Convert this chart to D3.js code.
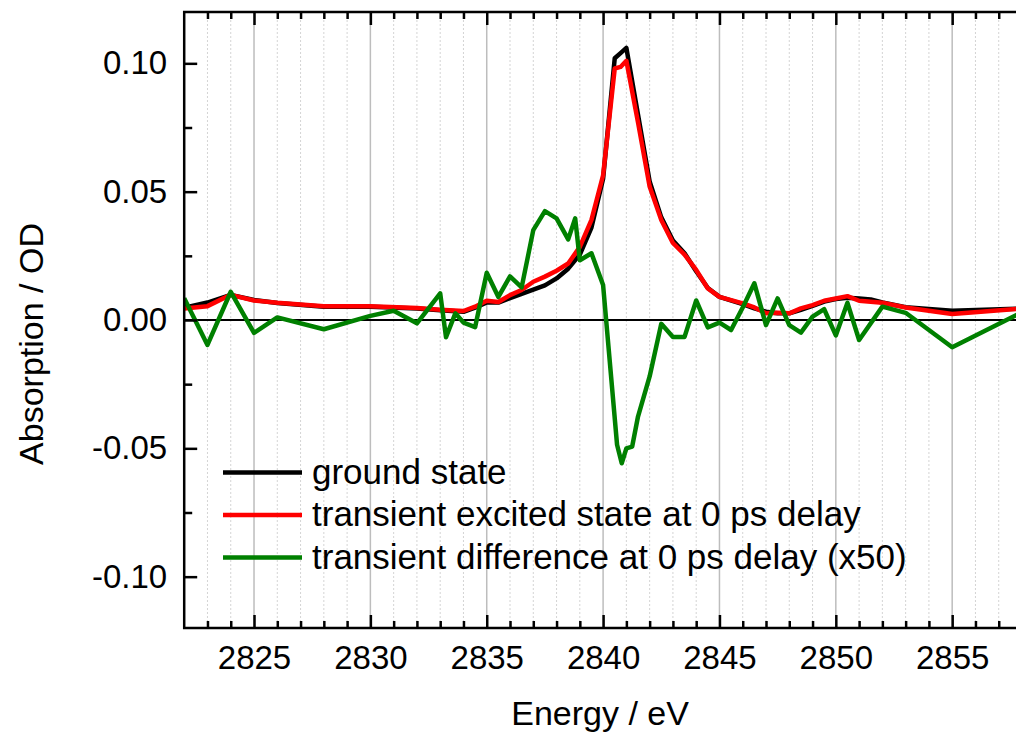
<!DOCTYPE html>
<html lang="en">
<head>
    <meta charset="UTF-8">
    <title>Absorption spectra</title>
    <script src="https://d3js.org/d3.v7.min.js"></script>
    <style>
        body {margin: 0; background: white;}
        svg {display: block; font-family: "Liberation Sans", Arial, sans-serif;}
    </style>
</head>
<body>
<script>
    const width = 1016;
    const height = 736;

    // energy grid of the two spectra (eV)
    const energy = [2822, 2823, 2824, 2825, 2826, 2828, 2830, 2832, 2833, 2834, 2834.5, 2835, 2835.5,
        2836, 2836.5, 2837, 2837.5, 2838, 2838.5, 2839, 2839.5, 2840, 2840.5, 2840.75, 2841, 2841.5,
        2842, 2842.5, 2843, 2843.5, 2844, 2844.5, 2845, 2846, 2846.5, 2847, 2847.5, 2848, 2848.5,
        2849, 2849.5, 2850, 2850.5, 2851, 2851.5, 2852, 2853, 2855, 2858];
    const groundState = [0.0048, 0.0068, 0.0098, 0.0078, 0.0066, 0.0052, 0.0052, 0.0045, 0.0038, 0.0032, 0.0048, 0.0068, 0.0068,
        0.0085, 0.0102, 0.0118, 0.0135, 0.0162, 0.0200, 0.0255, 0.036, 0.055, 0.102, 0.104, 0.106, 0.080,
        0.054, 0.040, 0.031, 0.026, 0.019, 0.0125, 0.009, 0.0062, 0.0045, 0.0032, 0.0026, 0.0026, 0.004,
        0.0055, 0.0072, 0.0082, 0.0087, 0.0084, 0.008, 0.0068, 0.005, 0.0036, 0.0045];
    const excitedState = [0.0045, 0.0054, 0.0098, 0.0076, 0.0067, 0.0054, 0.0054, 0.0047, 0.004, 0.0035, 0.0052, 0.0075, 0.007,
        0.0097, 0.0117, 0.0149, 0.0169, 0.0192, 0.022, 0.0285, 0.039, 0.0564, 0.098, 0.0986, 0.101, 0.077,
        0.052, 0.039, 0.030, 0.0255, 0.0195, 0.0123, 0.009, 0.0065, 0.0049, 0.0026, 0.0028, 0.0026, 0.0045,
        0.0058, 0.0075, 0.0084, 0.0093, 0.0075, 0.0071, 0.0067, 0.0049, 0.0023, 0.0045];

    // transient difference (x50), own energy grid
    const energyDiff = [2822, 2823, 2824, 2825, 2826, 2828, 2830, 2831, 2832, 2833, 2833.25, 2833.65, 2834,
        2834.5, 2835, 2835.5, 2836, 2836.5, 2837, 2837.5, 2838, 2838.5, 2838.8, 2839, 2839.5, 2840,
        2840.6, 2840.8, 2841, 2841.25, 2841.5, 2842, 2842.5, 2843, 2843.5, 2844, 2844.5, 2845, 2845.5,
        2846, 2846.5, 2847, 2847.5, 2848, 2848.5, 2849, 2849.5, 2850, 2850.5, 2851, 2852, 2853, 2855, 2858];
    const difference = [0.0085, -0.0097, 0.011, -0.005, 0.001, -0.0036, 0.0016, 0.0036, -0.0013, 0.0104, -0.0067, 0.0026, -0.001,
        -0.0028, 0.0184, 0.009, 0.017, 0.0127, 0.035, 0.0424, 0.0396, 0.0314, 0.0396, 0.0233, 0.026, 0.0136,
        -0.0486, -0.0558, -0.050, -0.0493, -0.0376, -0.022, -0.0015, -0.0066, -0.0066, 0.0076, -0.0029, -0.001, -0.0039,
        0.0049, 0.0143, -0.002, 0.0084, -0.002, -0.0049, 0.0013, 0.0042, -0.006, 0.0067, -0.0078, 0.0052, 0.0028, -0.0106, 0.003];

    const xMajor = [2825, 2830, 2835, 2840, 2845, 2850, 2855];
    const yMajor = [-0.10, -0.05, 0.00, 0.05, 0.10];
    const legendLabels = ["ground state", "transient excited state at 0 ps delay", "transient difference at 0 ps delay (x50)"];
    const colors = ["#000000", "#ff0000", "#008000"];

    // plot box (right edge falls just outside the picture)
    const box = {left: 184.2, right: 1022, top: 12, bottom: 628};

    const x = d3.scaleLinear().domain([2822, 2858]).range([box.left, box.right]);
    const y = d3.scaleLinear().domain([-0.12, 0.12]).range([box.bottom, box.top]);

    const svg = d3.select("body").append("svg")
            .attr("width", width).attr("height", height);

    svg.append("defs").append("clipPath").attr("id", "clip")
            .append("rect")
            .attr("x", box.left).attr("y", box.top)
            .attr("width", box.right - box.left).attr("height", box.bottom - box.top);

    // minor (1 eV) dotted grid and major (5 eV) grid
    const xMinor = d3.range(2823, 2858).filter(d => d % 5 !== 0);
    svg.append("g").selectAll("line").data(xMinor).enter().append("line")
            .attr("x1", d => x(d)).attr("x2", d => x(d))
            .attr("y1", box.top).attr("y2", box.bottom)
            .style("stroke", "#d4d4d4").style("stroke-width", 1).style("stroke-dasharray", "2,2");
    svg.append("g").selectAll("line").data(xMajor).enter().append("line")
            .attr("x1", d => x(d)).attr("x2", d => x(d))
            .attr("y1", box.top).attr("y2", box.bottom)
            .style("stroke", "#bdbdbd").style("stroke-width", 1.5);

    // zero line
    svg.append("line")
            .attr("x1", box.left).attr("x2", box.right)
            .attr("y1", y(0)).attr("y2", y(0))
            .style("stroke", "black").style("stroke-width", 2);

    // spectra
    const line = d3.line().x(d => x(d[0])).y(d => y(d[1]));
    const series = [
        d3.zip(energy, groundState),
        d3.zip(energy, excitedState),
        d3.zip(energyDiff, difference)
    ];
    svg.append("g").attr("clip-path", "url(#clip)")
            .selectAll("path").data(series).enter().append("path")
            .attr("d", line)
            .style("fill", "none")
            .style("stroke", (d, i) => colors[i])
            .style("stroke-width", 4.5)
            .style("stroke-linejoin", "round");

    // axes
    function styleAxis(g) {
        g.select(".domain").remove();
        g.selectAll(".tick line").style("stroke", "black").style("stroke-width", 2.5);
        g.selectAll(".tick text").style("font-size", "33px").style("fill", "black")
                .style("font-family", "'Liberation Sans', Arial, sans-serif");
    }

    svg.append("g").attr("transform", `translate(0,${box.bottom})`)
            .call(d3.axisBottom(x).tickValues(xMajor).tickSize(-13).tickPadding(18).tickFormat(d3.format("d")))
            .call(styleAxis);
    svg.append("g").attr("transform", `translate(0,${box.bottom})`)
            .call(d3.axisBottom(x).tickValues(xMinor).tickSize(-7).tickFormat(""))
            .call(styleAxis);
    svg.append("g").attr("transform", `translate(0,${box.top})`)
            .call(d3.axisTop(x).tickValues(xMajor).tickSize(-13).tickFormat(""))
            .call(styleAxis);
    svg.append("g").attr("transform", `translate(0,${box.top})`)
            .call(d3.axisTop(x).tickValues(xMinor).tickSize(-7).tickFormat(""))
            .call(styleAxis);

    svg.append("g").attr("transform", `translate(${box.left},0)`)
            .call(d3.axisLeft(y).tickValues(yMajor).tickSize(-13).tickPadding(17).tickFormat(d => d.toFixed(2)))
            .call(styleAxis);
    svg.append("g").attr("transform", `translate(${box.left},0)`)
            .call(d3.axisLeft(y).tickValues([-0.075, -0.025, 0.025, 0.075]).tickSize(-8).tickFormat(""))
            .call(styleAxis);

    // frame
    svg.append("path")
            .attr("d", `M${box.right},${box.top}H${box.left}V${box.bottom}H${box.right}`)
            .style("fill", "none").style("stroke", "black").style("stroke-width", 2.5);

    // axis titles
    svg.append("text")
            .attr("x", (box.left + box.right) / 2 - 3).attr("y", 725)
            .attr("text-anchor", "middle")
            .style("font-size", "34px")
            .text("Energy / eV");
    svg.append("text")
            .attr("transform", "translate(43,344) rotate(-90)")
            .attr("text-anchor", "middle")
            .style("font-size", "34px")
            .text("Absorption / OD");

    // legend
    const legend = svg.append("g").selectAll("g").data(legendLabels).enter().append("g")
            .attr("transform", (d, i) => `translate(223,${472.5 + i * 42.5})`);
    legend.append("line")
            .attr("x1", 0).attr("x2", 79)
            .style("stroke", (d, i) => colors[i]).style("stroke-width", 4.5);
    legend.append("text")
            .attr("x", 89).attr("y", 11)
            .style("font-size", "35px")
            .text(d => d);
</script>
</body>
</html>
